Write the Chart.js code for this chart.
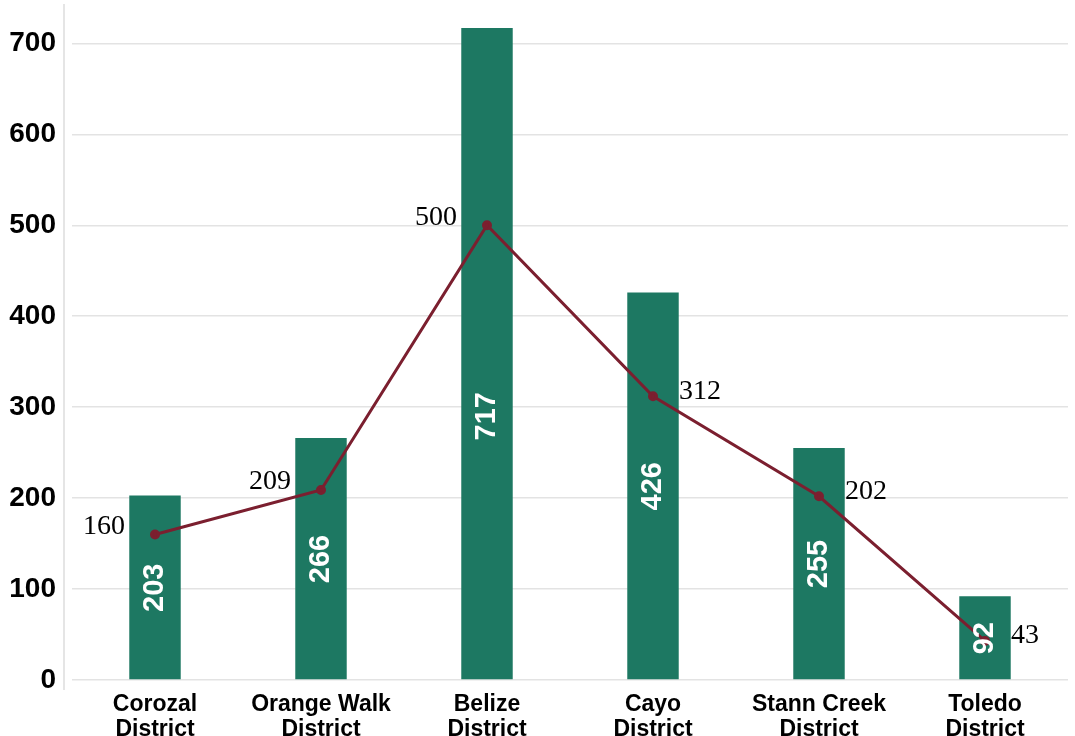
<!DOCTYPE html>
<html>
<head>
<meta charset="utf-8">
<script src="https://cdn.jsdelivr.net/npm/chart.js@4"></script>
<style>
  html, body { margin: 0; padding: 0; background: #fff; }
  #wrap { width: 1075px; height: 736px; }
</style>
</head>
<body>
<div id="wrap"><canvas id="chart"></canvas></div>
<script>
const districts  = [["Corozal", "District"], ["Orange Walk", "District"], ["Belize", "District"],
                    ["Cayo", "District"], ["Stann Creek", "District"], ["Toledo", "District"]];
const barValues  = [203, 266, 717, 426, 255, 92];
const lineValues = [160, 209, 500, 312, 202, 43];
const yTicks     = [0, 100, 200, 300, 400, 500, 600, 700];
const lineLabelSide = ["left", "left", "left", "right", "right", "right"];

const barColor  = "#1d7862";
const lineColor = "#7b1f2f";

// labels on bars (rotated) and next to line points
const valueLabels = {
  id: "valueLabels",
  afterDatasetsDraw(chart) {
    const ctx = chart.ctx;
    const y = chart.scales.y;

    const bars = chart.getDatasetMeta(0).data;
    ctx.save();
    ctx.fillStyle = "#fff";
    ctx.font = "bold 29px 'Liberation Sans', Arial, sans-serif";
    ctx.textAlign = "center";
    ctx.textBaseline = "middle";
    bars.forEach((bar, i) => {
      const mid = y.getPixelForValue(Math.min(barValues[i] / 2, 290));
      ctx.save();
      ctx.translate(bar.x, mid);
      ctx.rotate(-Math.PI / 2);
      ctx.fillText(String(barValues[i]), 0, 0);
      ctx.restore();
    });

    const pts = chart.getDatasetMeta(1).data;
    ctx.fillStyle = "#000";
    ctx.font = "28px 'Liberation Serif', 'Times New Roman', serif";
    ctx.textBaseline = "middle";
    pts.forEach((p, i) => {
      if (lineLabelSide[i] === "left") {
        ctx.textAlign = "right";
        ctx.fillText(String(lineValues[i]), p.x - 30, p.y - 8);
      } else {
        ctx.textAlign = "left";
        ctx.fillText(String(lineValues[i]), p.x + 26, p.y - 5);
      }
    });
    ctx.restore();
  }
};

// vertical axis line sitting a little left of the plot
const axisLine = {
  id: "axisLine",
  beforeDatasetsDraw(chart) {
    const ctx = chart.ctx;
    const a = chart.chartArea;
    ctx.save();
    ctx.strokeStyle = "#dcdcdc";
    ctx.lineWidth = 1.5;
    ctx.beginPath();
    ctx.moveTo(a.left - 8, 4);
    ctx.lineTo(a.left - 8, a.bottom + 10);
    ctx.stroke();
    ctx.restore();
  }
};

new Chart(document.getElementById("chart"), {
  data: {
    labels: districts,
    datasets: [
      {
        type: "bar",
        data: barValues,
        backgroundColor: barColor,
        barPercentage: 0.31,
        categoryPercentage: 1,
        order: 2
      },
      {
        type: "line",
        data: lineValues,
        borderColor: lineColor,
        backgroundColor: lineColor,
        borderWidth: 3,
        pointRadius: 3.5,
        pointHoverRadius: 3.5,
        tension: 0,
        order: 1
      }
    ]
  },
  options: {
    responsive: true,
    maintainAspectRatio: false,
    animation: false,
    layout: { padding: { top: 7, right: 7, left: 0, bottom: 0 } },
    plugins: { legend: { display: false }, tooltip: { enabled: false } },
    scales: {
      x: {
        grid: { display: false },
        border: { display: false },
        ticks: {
          color: "#000",
          padding: 4,
          font: { family: "'Liberation Sans', Arial, sans-serif", size: 23, weight: "bold", lineHeight: 1.1 },
          maxRotation: 0,
          autoSkip: false
        },
        afterFit(scale) { scale.height = 56; }
      },
      y: {
        min: 0,
        max: 740,
        grid: { color: "#e3e3e3", lineWidth: 1.5, drawTicks: false },
        border: { display: false },
        afterBuildTicks(scale) {
          scale.ticks = yTicks.map(v => ({ value: v }));
        },
        ticks: {
          color: "#000",
          padding: 16,
          font: { family: "'Liberation Sans', Arial, sans-serif", size: 28, weight: "bold" }
        },
        afterFit(scale) {
          scale.width = 72;
          scale.paddingTop = 0;
          scale.paddingBottom = 0;
        }
      }
    }
  },
  plugins: [valueLabels, axisLine]
});
</script>
</body>
</html>
